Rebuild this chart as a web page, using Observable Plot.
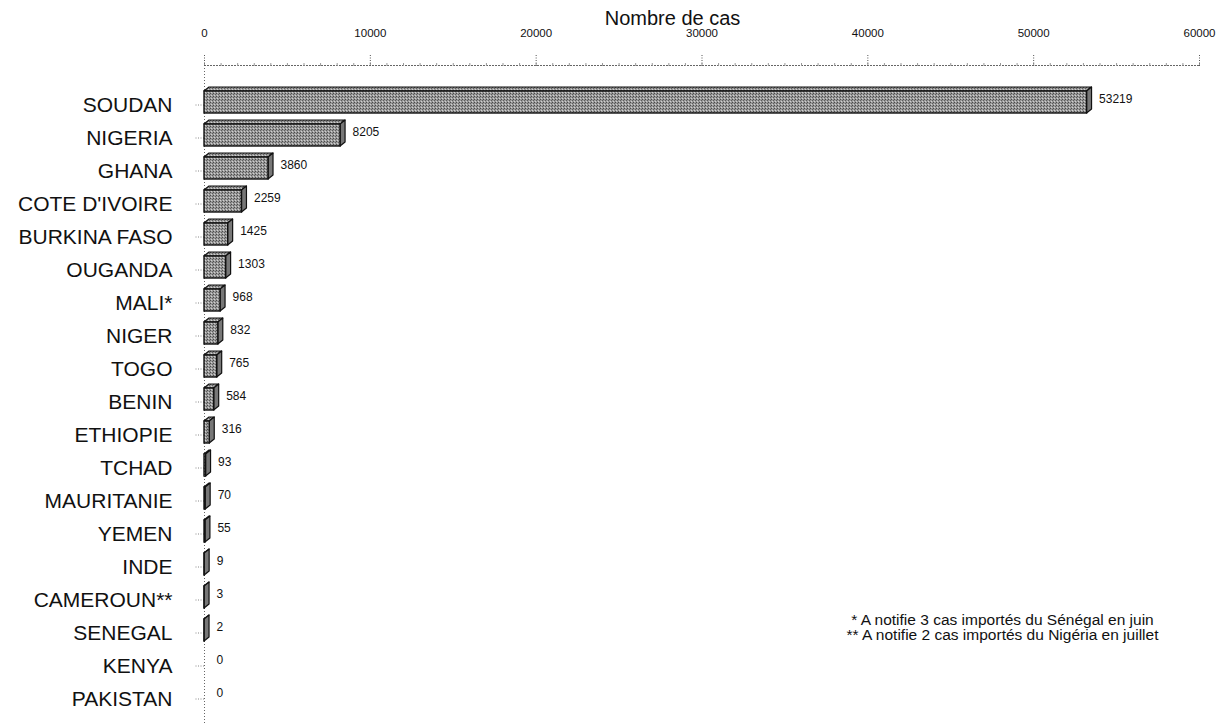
<!DOCTYPE html>
<html>
<head>
<meta charset="utf-8">
<script src="https://cdn.jsdelivr.net/npm/d3@7"></script>
<script src="https://cdn.jsdelivr.net/npm/@observablehq/plot@0.6"></script>
<style>
  html, body { margin: 0; padding: 0; background: #fff; }
  #chart svg { display: block; }
</style>
</head>
<body>
<div id="chart"></div>
<script>
// ---- data ----
const countries = ["SOUDAN", "NIGERIA", "GHANA", "COTE D'IVOIRE", "BURKINA FASO", "OUGANDA", "MALI*", "NIGER", "TOGO", "BENIN", "ETHIOPIE", "TCHAD", "MAURITANIE", "YEMEN", "INDE", "CAMEROUN**", "SENEGAL", "KENYA", "PAKISTAN"];
const cases = [53219, 8205, 3860, 2259, 1425, 1303, 968, 832, 765, 584, 316, 93, 70, 55, 9, 3, 2, 0, 0];
const xTicks = [0, 10000, 20000, 30000, 40000, 50000, 60000];
const minorTicks = d3.range(0, 60001, 1000);
const axisTitle = "Nombre de cas";
const footnotes = ["* A notifie 3 cas importés du Sénégal en juin", "** A notifie 2 cas importés du Nigéria en juillet"];

const data = countries.map((country, i) => ({country, cases: cases[i]}));

const FONT = "'Liberation Sans', Arial, Helvetica, sans-serif";
const DEPTH_X = 5, DEPTH_Y = 4;
const INSET_TOP = 3, INSET_BOTTOM = 8;

// 3D top and side faces, drawn through Plot's own x and y scales
function faces(index, scales) {
  const x = scales.x, y = scales.y;
  const bw = y.bandwidth();
  const g = d3.create("svg:g");
  const defs = g.append("defs");
  const pat = defs.append("pattern").attr("id", "stip").attr("width", 3).attr("height", 3).attr("patternUnits", "userSpaceOnUse");
  pat.append("rect").attr("width", 3).attr("height", 3).attr("fill", "#999");
  pat.append("rect").attr("x", 0).attr("y", 0).attr("width", 1).attr("height", 1).attr("fill", "#4a4a4a");
  pat.append("rect").attr("x", 2).attr("y", 1).attr("width", 1).attr("height", 1).attr("fill", "#5e5e5e");
  pat.append("rect").attr("x", 1).attr("y", 2).attr("width", 1).attr("height", 1).attr("fill", "#d0d0d0");
  for (const d of data) {
    if (!(d.cases > 0)) continue;
    const x0 = x(0), x1 = x(d.cases);
    const yt = y(d.country) + INSET_TOP, yb = y(d.country) + bw - INSET_BOTTOM;
    g.append("path")
      .attr("d", `M${x0},${yt}L${x1},${yt}L${x1 + DEPTH_X},${yt - DEPTH_Y}L${x0 + DEPTH_X},${yt - DEPTH_Y}Z`)
      .attr("fill", "url(#stip)").attr("stroke", "#111").attr("stroke-width", 1.2).attr("stroke-linejoin", "round");
    g.append("path")
      .attr("d", `M${x1},${yt}L${x1 + DEPTH_X},${yt - DEPTH_Y}L${x1 + DEPTH_X},${yb - DEPTH_Y}L${x1},${yb}Z`)
      .attr("fill", "#777").attr("stroke", "#111").attr("stroke-width", 1.2).attr("stroke-linejoin", "round");
  }
  return g.node();
}

const chart = Plot.plot({
  width: 1222,
  height: 725,
  marginLeft: 204,
  marginRight: 23,
  marginTop: 65,
  marginBottom: 0,
  style: {fontFamily: FONT, color: "#111", background: "#fff", overflow: "visible"},
  x: {domain: [0, 60000]},
  y: {domain: countries, range: [85, 718], padding: 0},
  marks: [
    // top axis line and left axis line (dotted, as in the scan)
    Plot.frame({anchor: "top", stroke: "#666", strokeDasharray: "1,2"}),
    Plot.ruleX([0], {stroke: "#666", strokeDasharray: "1,2"}),
    Plot.axisX(minorTicks, {anchor: "top", tickSize: 3, stroke: "#999", tickFormat: null, label: null, text: null}),
    Plot.axisX(xTicks, {anchor: "top", tickSize: 11, tickPadding: 18, fontSize: 11.5, stroke: "#555", strokeDasharray: "1,1.5", label: null, tickFormat: d => String(d)}),
    Plot.axisY({tickSize: 9, tickPadding: 23, fontSize: 21, stroke: "#888", strokeDasharray: "1,1.5", label: null}),
    faces,
    Plot.barX(data.filter(d => d.cases > 0), {
      x1: 0, x2: "cases", y: "country",
      insetTop: INSET_TOP, insetBottom: INSET_BOTTOM,
      fill: "url(#stip)", stroke: "#111", strokeWidth: 1.4
    }),
    Plot.text(data, {x: "cases", y: "country", text: d => String(d.cases), dx: 12, dy: -6, textAnchor: "start", fontSize: 12, fill: "#111"}),
    Plot.text([axisTitle], {frameAnchor: "top", dx: 672 - 701.5, dy: -47, fontSize: 20, lineAnchor: "middle", fill: "#111"}),
    Plot.text([footnotes.join("\n")], {frameAnchor: "top-left", dx: 1002 - 204, dy: 613 - 65, textAnchor: "middle", lineAnchor: "top", fontSize: 15.5, lineHeight: 1.0, fill: "#111"})
  ]
});
document.getElementById("chart").appendChild(chart);
</script>
</body>
</html>
